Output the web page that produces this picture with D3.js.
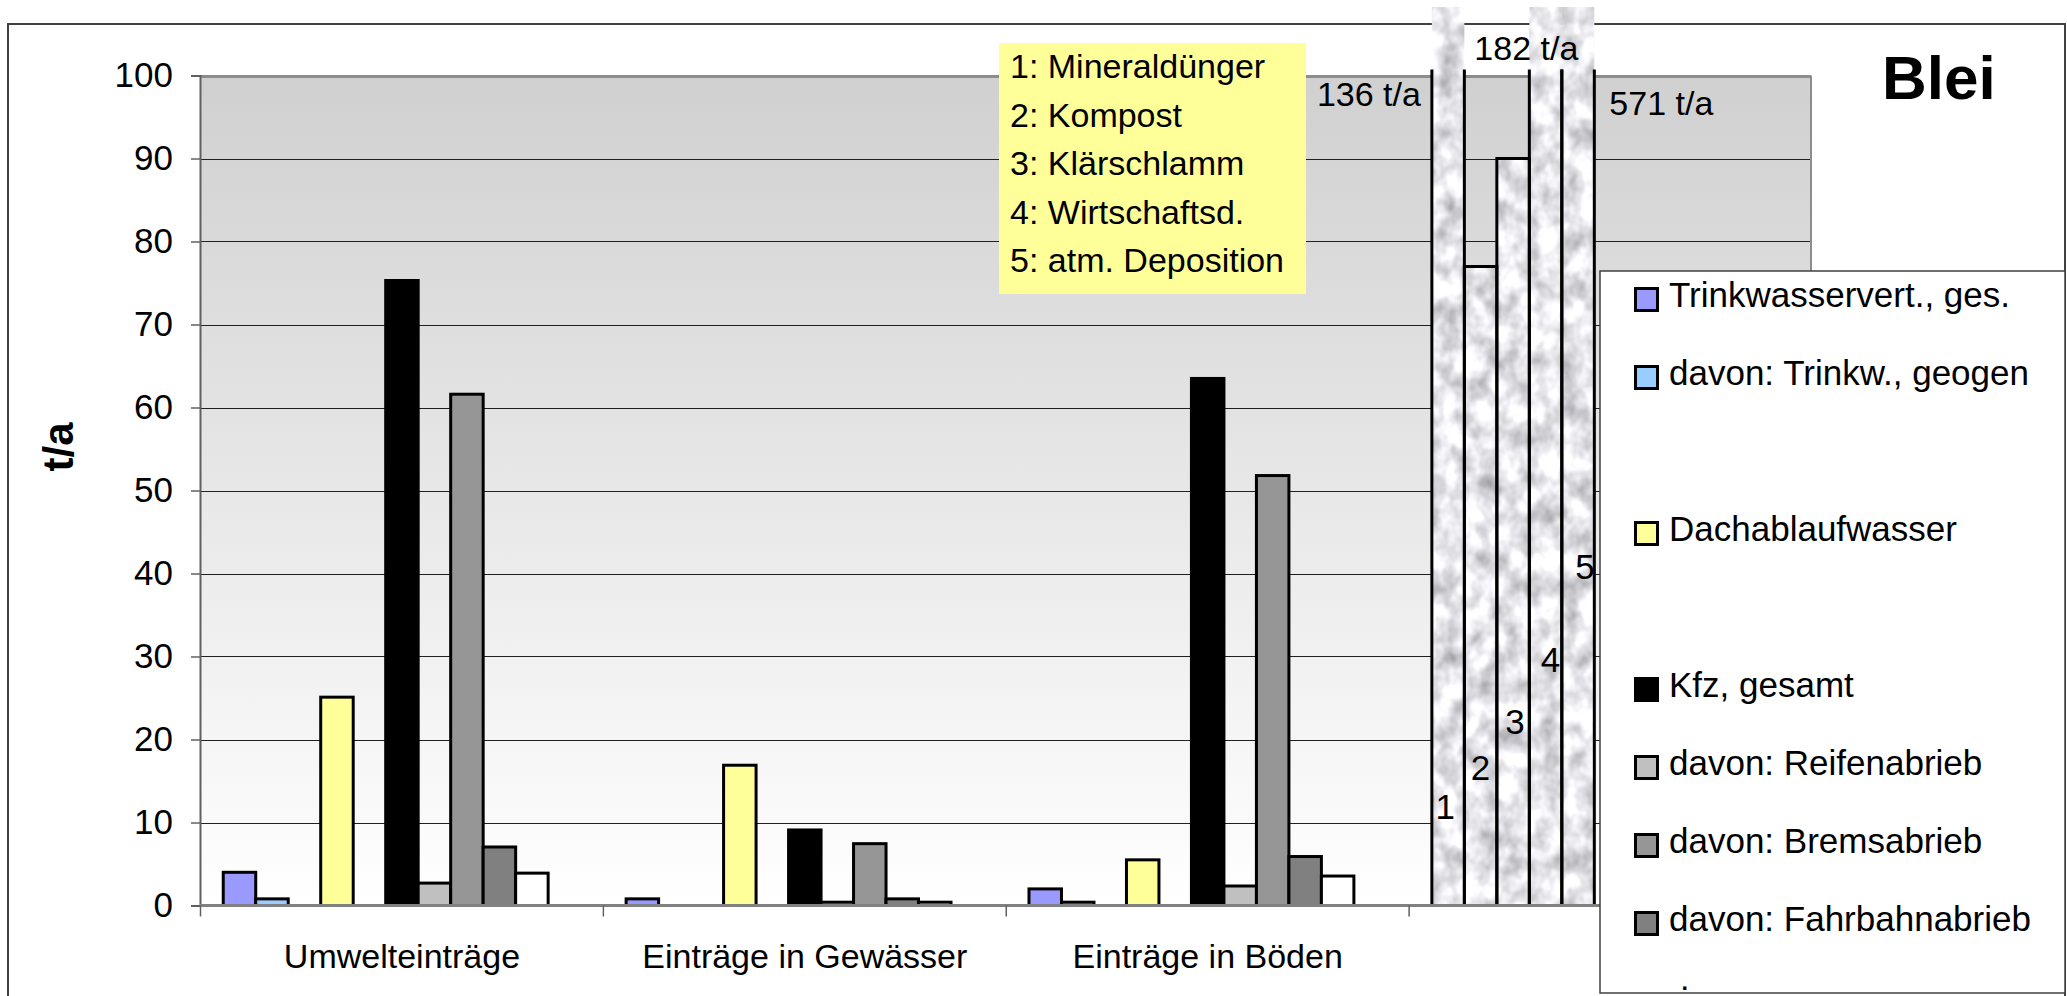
<!DOCTYPE html>
<html>
<head>
<meta charset="utf-8">
<script src="https://cdn.jsdelivr.net/npm/d3@7"></script>
<style>
body { margin: 0; background: #fff; }
svg { display: block; font-family: "Liberation Sans", Arial, sans-serif; }
</style>
</head>
<body>
<div id="chart"></div>
<script>
// categories on the x axis (the 4th group holds the source bars 1-5)
var categories = ["Umwelteinträge", "Einträge in Gewässer", "Einträge in Böden", ""];

// legend entries, one per bar slot in a group ("" = empty slot)
var seriesNames = ["Trinkwasservert., ges.", "davon: Trinkw., geogen", "", "Dachablaufwasser", "",
    "Kfz, gesamt", "davon: Reifenabrieb", "davon: Bremsabrieb", "davon: Fahrbahnabrieb", "", ""];

// t/a per slot for each category
var umwelteintraege   = [4.0, 0.8, 0, 25.1, 0, 75.3, 2.7, 61.6, 7.05, 3.9, 0];
var eintraegeGewaesser = [0.8, 0, 0, 16.9, 0, 9.1, 0.4, 7.45, 0.8, 0.4, 0];
var eintraegeBoeden   = [2.0, 0.4, 0, 5.5, 0, 63.5, 2.35, 51.8, 5.9, 3.55, 0];

// sources of soil input (4th group)
var sourceNames = ["Mineraldünger", "Kompost", "Klärschlamm", "Wirtschaftsd.", "atm. Deposition"];
var sourceValues = [136, 77, 90, 182, 571];

var yTicks = [0, 10, 20, 30, 40, 50, 60, 70, 80, 90, 100];

// styles
var seriesColors = ["#9999ff", "#99ccff", "#ffffff", "#ffff99", "#ffffff",
    "#000000", "#c0c0c0", "#969696", "#808080", "#ffffff", "#ffffff"];

var W = 2067, H = 996;
var plotL = 200, plotR = 1811, plotT = 75.5, plotB = 905.5;
var overflowTop = 7;

var groups = [umwelteintraege, eintraegeGewaesser, eintraegeBoeden];

var svg = d3.select("#chart").append("svg").attr("width", W).attr("height", H);
var defs = svg.append("defs");

var grad = defs.append("linearGradient").attr("id", "plotBg")
    .attr("x1", 0).attr("y1", 0).attr("x2", 0).attr("y2", 1);
grad.append("stop").attr("offset", "0%").attr("stop-color", "#d0d0d0");
grad.append("stop").attr("offset", "100%").attr("stop-color", "#ffffff");

// light marble texture for the source bars
var f = defs.append("filter").attr("id", "marble").attr("filterUnits", "userSpaceOnUse")
    .attr("color-interpolation-filters", "sRGB")
    .attr("x", 0).attr("y", 0).attr("width", W).attr("height", H);
f.append("feTurbulence").attr("type", "fractalNoise").attr("baseFrequency", "0.05 0.04")
    .attr("numOctaves", 3).attr("seed", 11).attr("result", "noise");
f.append("feColorMatrix").attr("in", "noise").attr("type", "matrix")
    .attr("values", "0.6 0 0 0 0.6  0.6 0 0 0 0.6  0.6 0 0 0 0.62  0 0 0 0 1")
    .attr("result", "gray");
f.append("feComposite").attr("in", "gray").attr("in2", "SourceGraphic").attr("operator", "in");

var x0 = d3.scaleBand().domain(d3.range(categories.length)).range([plotL + 0.5, plotR + 1]);
var x1 = d3.scaleBand().domain(d3.range(seriesNames.length)).range([0, x0.bandwidth()]).paddingOuter(0.7);
var y = d3.scaleLinear().domain([0, 100]).range([plotB, plotT]);

// outer frame
svg.append("rect").attr("x", 8).attr("y", 24).attr("width", 2057).attr("height", 990)
    .attr("fill", "#fff").attr("stroke", "#404040").attr("stroke-width", 2);

// plot area
svg.append("rect").attr("x", plotL).attr("y", plotT).attr("width", plotR - plotL).attr("height", plotB - plotT)
    .attr("fill", "url(#plotBg)");

svg.append("g").selectAll("line").data(yTicks.filter(function (d) { return d > 0 && d < 100; })).join("line")
    .attr("x1", plotL).attr("x2", plotR)
    .attr("y1", function (d) { return Math.round(y(d)) + 0.5; })
    .attr("y2", function (d) { return Math.round(y(d)) + 0.5; })
    .attr("stroke", "#202020").attr("stroke-width", 1.2);

svg.append("line").attr("x1", plotL).attr("x2", plotR).attr("y1", plotT + 1).attr("y2", plotT + 1)
    .attr("stroke", "#8c8c8c").attr("stroke-width", 3);
svg.append("line").attr("x1", plotR).attr("x2", plotR).attr("y1", plotT).attr("y2", plotB)
    .attr("stroke", "#8c8c8c").attr("stroke-width", 2);

// bars of the first three groups
var gBars = svg.append("g");
groups.forEach(function (vals, ci) {
    gBars.append("g").selectAll("rect")
        .data(vals.map(function (v, i) { return {v: v, i: i}; }).filter(function (d) { return d.v > 0; }))
        .join("rect")
        .attr("x", function (d) { return x0(ci) + x1(d.i); })
        .attr("width", x1.bandwidth())
        .attr("y", function (d) { return y(d.v); })
        .attr("height", function (d) { return plotB - y(d.v); })
        .attr("fill", function (d) { return seriesColors[d.i]; })
        .attr("stroke", "#000").attr("stroke-width", 3);
});

// source bars with marble texture
var srcX = function (i) { return x0(3) + x1(i); };
var srcTop = function (v) { return v > 100 ? overflowTop : y(v); };
svg.append("g").attr("filter", "url(#marble)").selectAll("rect").data(sourceValues).join("rect")
    .attr("x", function (d, i) { return srcX(i); })
    .attr("width", x1.bandwidth())
    .attr("y", function (d) { return srcTop(d); })
    .attr("height", function (d) { return plotB - srcTop(d); })
    .attr("fill", "#fff");

svg.append("g").selectAll("path").data(sourceValues).join("path")
    .attr("d", function (d, i) {
        var xa = srcX(i), xb = xa + x1.bandwidth();
        if (d > 100) {
            var t = plotT - 6;
            return "M" + xa + "," + t + "V" + plotB + "H" + xb + "V" + t;
        }
        return "M" + xa + "," + y(d) + "V" + plotB + "H" + xb + "V" + y(d) + "Z";
    })
    .attr("fill", "none").attr("stroke", "#000").attr("stroke-width", 3);

// value labels of the overflowing bars
var bw = x1.bandwidth();
var srcLabels = [
    {i: 0, x: srcX(0) - 11, y: 106, anchor: "end"},
    {i: 3, x: srcX(3) - 3, y: 60, anchor: "middle"},
    {i: 4, x: srcX(4) + bw + 15, y: 115, anchor: "start"}
];
svg.append("g").selectAll("text").data(srcLabels).join("text")
    .attr("x", function (d) { return d.x; }).attr("y", function (d) { return d.y; })
    .attr("text-anchor", function (d) { return d.anchor; })
    .attr("font-size", 34).attr("fill", "#000")
    .text(function (d) { return sourceValues[d.i] + " t/a"; });

// numbers 1-5 inside the source bars
var markLevel = [11.9, 16.6, 22.1, 29.6, 40.8];
svg.append("g").selectAll("text").data(sourceNames).join("text")
    .attr("x", function (d, i) { return srcX(i) + bw / 2 + [-3, 0, 2, 5, 7][i]; })
    .attr("y", function (d, i) { return y(markLevel[i]) + 12; })
    .attr("text-anchor", "middle").attr("font-size", 35).attr("fill", "#000")
    .text(function (d, i) { return i + 1; });

// y axis
var yAxis = svg.append("g").attr("transform", "translate(" + plotL + ",0)")
    .call(d3.axisLeft(y).tickValues(yTicks).tickSize(9).tickPadding(18));
yAxis.select(".domain").attr("stroke", "#606060").attr("stroke-width", 2);
yAxis.selectAll(".tick line").attr("stroke", "#606060").attr("stroke-width", 1.5);
yAxis.selectAll("text").attr("font-size", 35).attr("font-family", "Liberation Sans, Arial, sans-serif").attr("fill", "#000");

// x axis
svg.append("line").attr("x1", plotL).attr("x2", plotR).attr("y1", plotB).attr("y2", plotB)
    .attr("stroke", "#808080").attr("stroke-width", 3);
var bounds = d3.range(categories.length).map(function (i) { return x0(i); }).concat([x0.range()[1]]);
svg.append("g").selectAll("line").data(bounds).join("line")
    .attr("x1", function (d) { return d; }).attr("x2", function (d) { return d; })
    .attr("y1", plotB).attr("y2", plotB + 11)
    .attr("stroke", "#606060").attr("stroke-width", 1.5);
var xAxis = svg.append("g").attr("transform", "translate(0," + plotB + ")")
    .call(d3.axisBottom(x0).tickSize(0).tickFormat(function (i) { return categories[i]; }));
xAxis.select(".domain").remove();
xAxis.selectAll("text").attr("y", 62).attr("dy", 0).attr("font-size", 34)
    .attr("font-family", "Liberation Sans, Arial, sans-serif").attr("fill", "#000");

svg.append("text").attr("transform", "translate(73,447) rotate(-90)")
    .attr("text-anchor", "middle").attr("font-size", 42).attr("font-weight", "bold").text("t/a");

// note box
svg.append("rect").attr("x", 999).attr("y", 43).attr("width", 307).attr("height", 251).attr("fill", "#ffff99");
svg.append("g").selectAll("text").data(sourceNames).join("text")
    .attr("x", 1010).attr("y", function (d, i) { return 78 + i * 48.5; })
    .attr("font-size", 34).attr("fill", "#000")
    .text(function (d, i) { return (i + 1) + ": " + d; });

// title
svg.append("text").attr("x", 1882).attr("y", 99).attr("font-size", 62).attr("font-weight", "bold").text("Blei");

// legend
var leg = svg.append("g");
leg.append("rect").attr("x", 1600).attr("y", 271).attr("width", 465).attr("height", 722)
    .attr("fill", "#fff").attr("stroke", "#404040").attr("stroke-width", 1.5);
var items = leg.selectAll("g.item").data(seriesNames.map(function (n, i) { return {n: n, i: i}; })
    .filter(function (d) { return d.n !== ""; }))
    .join("g").attr("class", "item")
    .attr("transform", function (d) { return "translate(1634," + (287 + d.i * 78) + ")"; });
items.append("rect").attr("x", 1.5).attr("y", 1.5).attr("width", 22).attr("height", 22)
    .attr("fill", function (d) { return seriesColors[d.i]; }).attr("stroke", "#000").attr("stroke-width", 3);
items.append("text").attr("x", 35).attr("y", 20).attr("font-size", 35).attr("fill", "#000")
    .text(function (d) { return d.n; });
leg.append("text").attr("x", 1680).attr("y", 990).attr("font-size", 34).text(".");
</script>
</body>
</html>
